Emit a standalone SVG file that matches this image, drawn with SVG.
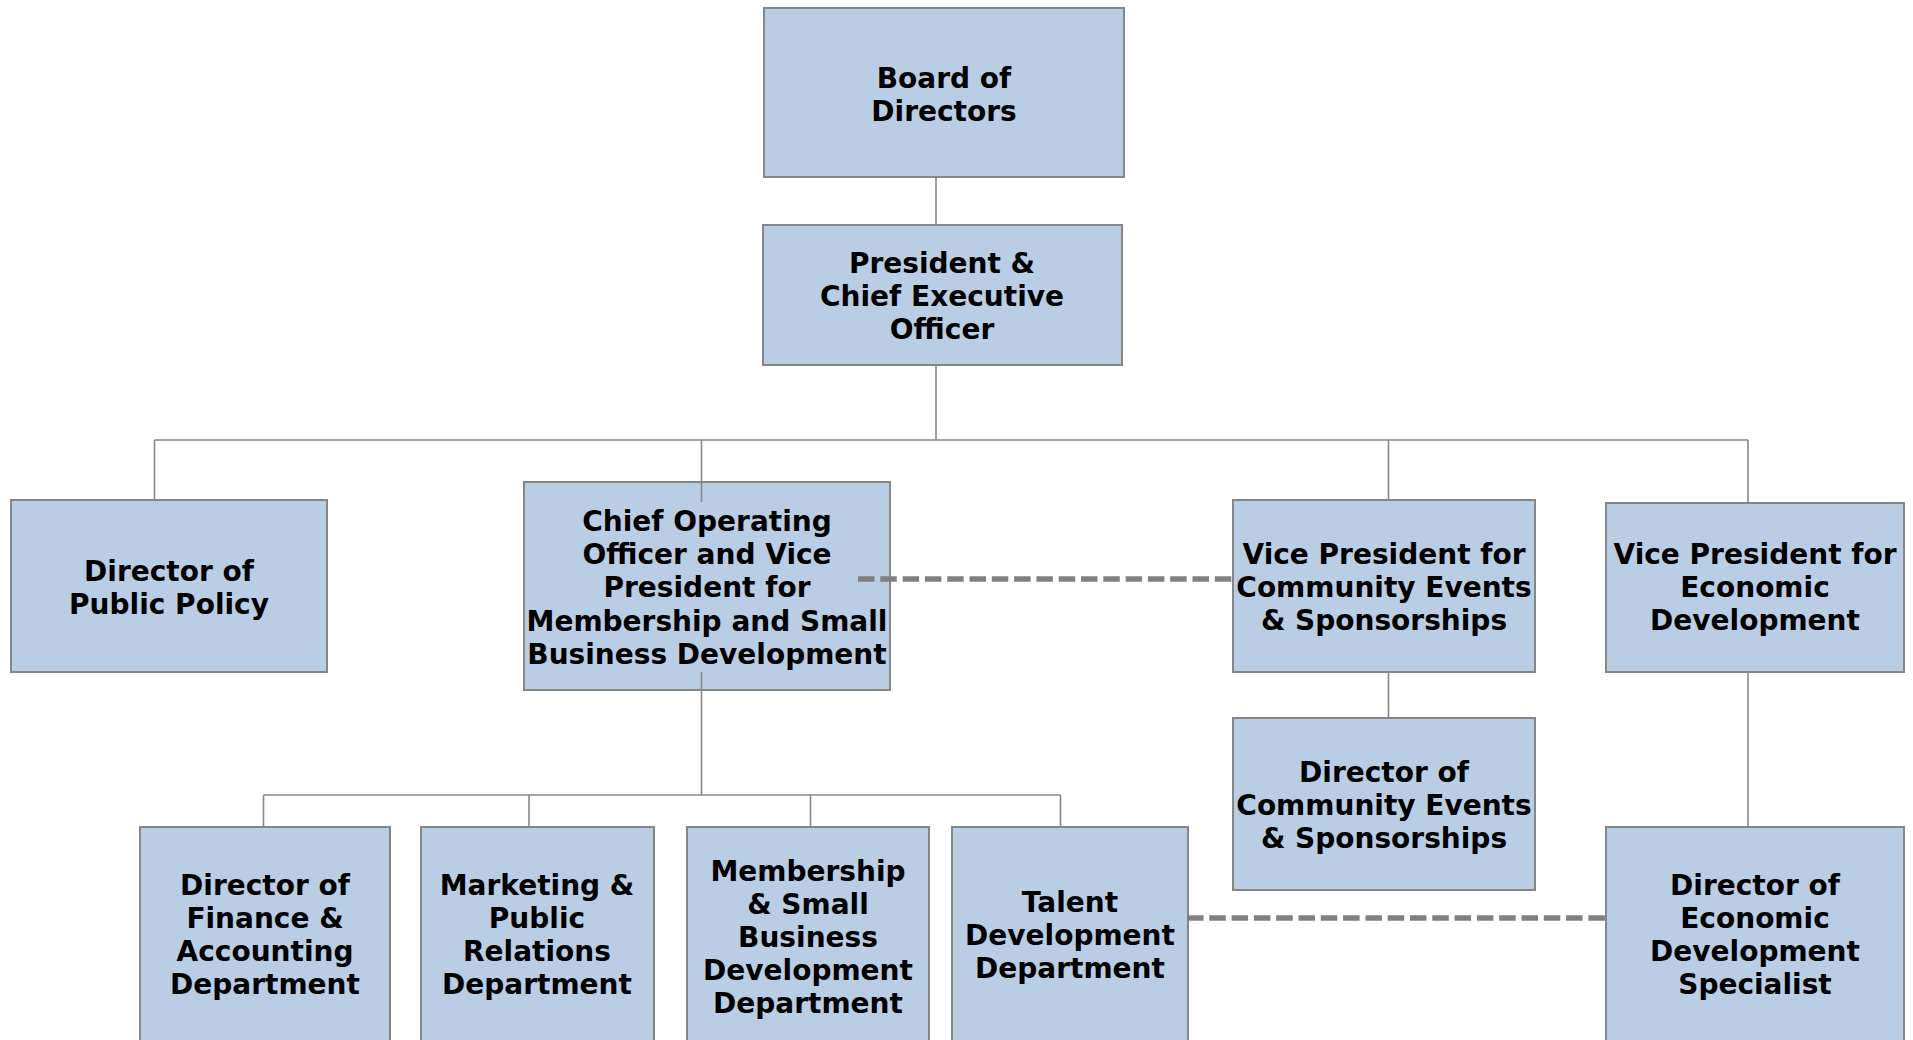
<svg xmlns="http://www.w3.org/2000/svg" width="1913" height="1040" viewBox="0 0 1913 1040">
  <style>
    .box { fill: #b9cde4; stroke: #868686; stroke-width: 2; }
    .lbl { font-family: "DejaVu Sans", Verdana, sans-serif; font-weight: bold; font-size: 28px; fill: #000; text-anchor: middle; }
    .link { fill: none; stroke: #888888; stroke-width: 1.6; }
    .dotted { fill: none; stroke: #808080; stroke-width: 5.5; stroke-dasharray: 16.5 5.8; }
  </style>
  <rect width="1913" height="1040" fill="#ffffff"/>

  <!-- nodes -->
  <g id="board">
    <rect class="box" x="764" y="8" width="360" height="169"/>
    <text class="lbl"><tspan x="944" y="88">Board of</tspan><tspan x="944" y="121">Directors</tspan></text>
  </g>
  <g id="president">
    <rect class="box" x="763" y="225" width="359" height="140"/>
    <text class="lbl"><tspan x="942" y="273">President &amp;</tspan><tspan x="942" y="306">Chief Executive</tspan><tspan x="942" y="339">Officer</tspan></text>
  </g>
  <g id="public-policy">
    <rect class="box" x="11" y="500" width="316" height="172"/>
    <text class="lbl"><tspan x="169" y="581">Director of</tspan><tspan x="169" y="614">Public Policy</tspan></text>
  </g>
  <g id="coo">
    <rect class="box" x="524" y="482" width="366" height="208"/>
    <text class="lbl"><tspan x="707" y="531">Chief Operating</tspan><tspan x="707" y="564">Officer and Vice</tspan><tspan x="707" y="597">President for</tspan><tspan x="707" y="631">Membership and Small</tspan><tspan x="707" y="664">Business Development</tspan></text>
  </g>
  <g id="vp-community">
    <rect class="box" x="1233" y="500" width="302" height="172"/>
    <text class="lbl"><tspan x="1384" y="564">Vice President for</tspan><tspan x="1384" y="597">Community Events</tspan><tspan x="1384" y="630">&amp; Sponsorships</tspan></text>
  </g>
  <g id="vp-economic">
    <rect class="box" x="1606" y="503" width="298" height="169"/>
    <text class="lbl"><tspan x="1755" y="564">Vice President for</tspan><tspan x="1755" y="597">Economic</tspan><tspan x="1755" y="630">Development</tspan></text>
  </g>
  <g id="dir-community">
    <rect class="box" x="1233" y="718" width="302" height="172"/>
    <text class="lbl"><tspan x="1384" y="782">Director of</tspan><tspan x="1384" y="815">Community Events</tspan><tspan x="1384" y="848">&amp; Sponsorships</tspan></text>
  </g>
  <g id="finance">
    <rect class="box" x="140" y="827" width="250" height="240"/>
    <text class="lbl"><tspan x="265" y="895">Director of</tspan><tspan x="265" y="928">Finance &amp;</tspan><tspan x="265" y="961">Accounting</tspan><tspan x="265" y="994">Department</tspan></text>
  </g>
  <g id="marketing">
    <rect class="box" x="421" y="827" width="233" height="240"/>
    <text class="lbl"><tspan x="537" y="895">Marketing &amp;</tspan><tspan x="537" y="928">Public</tspan><tspan x="537" y="961">Relations</tspan><tspan x="537" y="994">Department</tspan></text>
  </g>
  <g id="membership">
    <rect class="box" x="687" y="827" width="242" height="240"/>
    <text class="lbl"><tspan x="808" y="881">Membership</tspan><tspan x="808" y="914">&amp; Small</tspan><tspan x="808" y="947">Business</tspan><tspan x="808" y="980">Development</tspan><tspan x="808" y="1013">Department</tspan></text>
  </g>
  <g id="talent">
    <rect class="box" x="952" y="827" width="236" height="240"/>
    <text class="lbl"><tspan x="1070" y="912">Talent</tspan><tspan x="1070" y="945">Development</tspan><tspan x="1070" y="978">Department</tspan></text>
  </g>
  <g id="econ-specialist">
    <rect class="box" x="1606" y="827" width="298" height="240"/>
    <text class="lbl"><tspan x="1755" y="895">Director of</tspan><tspan x="1755" y="928">Economic</tspan><tspan x="1755" y="961">Development</tspan><tspan x="1755" y="994">Specialist</tspan></text>
  </g>

  <!-- connectors -->
  <g id="connectors">
    <path class="link" d="M936 177V225 M936 365V440 M154.5 440H1748 M154.5 440V500 M701.5 440V502 M1388.5 440V500 M1748 440V503"/>
    <path class="link" d="M701.5 672V795 M263.5 795H1060.5 M263.5 795V827 M529 795V827 M810.5 795V827 M1060.5 795V827"/>
    <path class="link" d="M1388.5 672V718 M1748 672V827"/>
    <path class="dotted" d="M858 579H1233"/>
    <path class="dotted" d="M1187 918H1606"/>
  </g>
</svg>
